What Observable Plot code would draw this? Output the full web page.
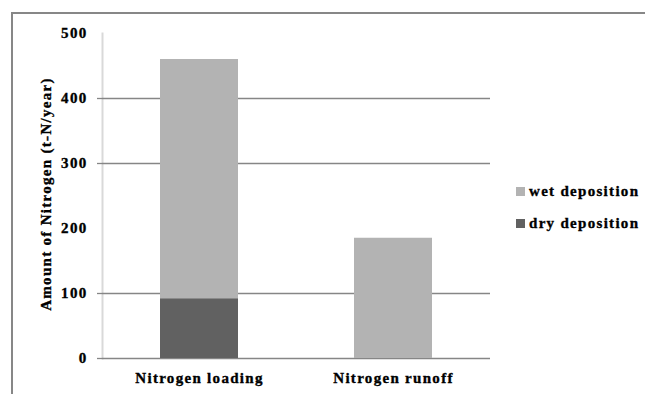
<!DOCTYPE html>
<html>
<head>
<meta charset="utf-8">
<script src="https://cdn.jsdelivr.net/npm/d3@7"></script>
<script src="https://cdn.jsdelivr.net/npm/@observablehq/plot@0.6"></script>
<style>
  html, body { margin: 0; padding: 0; background: #fff; }
  #wrap { position: relative; width: 645px; height: 394px; overflow: hidden; }
  #border { position: absolute; left: 11px; top: 12px; width: 700px; height: 500px;
            border-left: 2px solid #878787; border-top: 2px solid #878787; }
  #chart { position: absolute; left: 0; top: 0; }
  #chart svg { background: transparent; }
  #chart svg text { stroke: #000; stroke-width: 0.35px; }
  #legend { position: absolute; left: 516px; top: 181px;
            font-family: "Liberation Serif", "Times New Roman", serif; font-weight: bold;
            font-size: 15px; letter-spacing: 1.3px; color: #000; -webkit-text-stroke: 0.35px #000; }
  .item { display: flex; align-items: center; height: 20px; margin-bottom: 12px; white-space: nowrap; }
  .sw { width: 9px; height: 9px; margin-right: 4px; }
</style>
</head>
<body>
<div id="wrap">
  <div id="border"></div>
  <div id="chart"></div>
  <div id="legend"></div>
</div>
<script>
const categories = ["Nitrogen loading", "Nitrogen runoff"];
const seriesNames = ["dry deposition", "wet deposition"];
const dryValues = [92, 0];
const wetValues = [368, 185];
const yTicks = [0, 100, 200, 300, 400, 500];
const gridValues = [0, 100, 300, 400];
const seriesColors = ["#616161", "#b3b3b3"];
const legendOrder = ["wet deposition", "dry deposition"];
const yLabel = "Amount of Nitrogen (t-N/year)";

const rows = [];
categories.forEach((c, i) => {
  rows.push({category: c, series: seriesNames[0], value: dryValues[i]});
  rows.push({category: c, series: seriesNames[1], value: wetValues[i]});
});

const font = "'Liberation Serif', 'Times New Roman', serif";

const chart = Plot.plot({
  width: 645,
  height: 394,
  marginLeft: 102,
  marginRight: 155,
  marginTop: 33,
  marginBottom: 36,
  style: {fontFamily: font, fontWeight: "bold", fontSize: "15px", letterSpacing: "1.3px", color: "#000", background: "transparent"},
  x: {domain: categories, paddingInner: 0.6, paddingOuter: 0.3, axis: null},
  y: {domain: [0, 500], axis: null},
  color: {domain: seriesNames, range: seriesColors},
  marks: [
    Plot.frame({anchor: "left", stroke: "#d9d9d9", strokeWidth: 2}),
    Plot.gridY(gridValues, {stroke: "#868686", strokeOpacity: 1, strokeWidth: 1.3}),
    Plot.axisY(gridValues, {tickSize: 5, stroke: "#868686", strokeWidth: 1.3, tickFormat: () => "", label: null}),
    Plot.axisY(yTicks, {tickSize: 0, tickPadding: 15, fontSize: 15, fontWeight: "bold", label: null}),
    Plot.barY(rows, {x: "category", y: "value", fill: "series", order: seriesNames}),
    Plot.axisX({tickSize: 0, tickPadding: 14, fontSize: 15, fontWeight: "bold", label: null}),
    Plot.text([yLabel], {frameAnchor: "left", textAnchor: "middle", dx: -56, dy: -2, rotate: -90, fontSize: 15, fontWeight: "bold", text: d => d})
  ]
});
document.getElementById("chart").appendChild(chart);

const legend = document.getElementById("legend");
legendOrder.forEach(name => {
  const item = document.createElement("div");
  item.className = "item";
  const sw = document.createElement("span");
  sw.className = "sw";
  sw.style.background = seriesColors[seriesNames.indexOf(name)];
  const t = document.createElement("span");
  t.textContent = name;
  item.appendChild(sw);
  item.appendChild(t);
  legend.appendChild(item);
});
</script>
</body>
</html>
